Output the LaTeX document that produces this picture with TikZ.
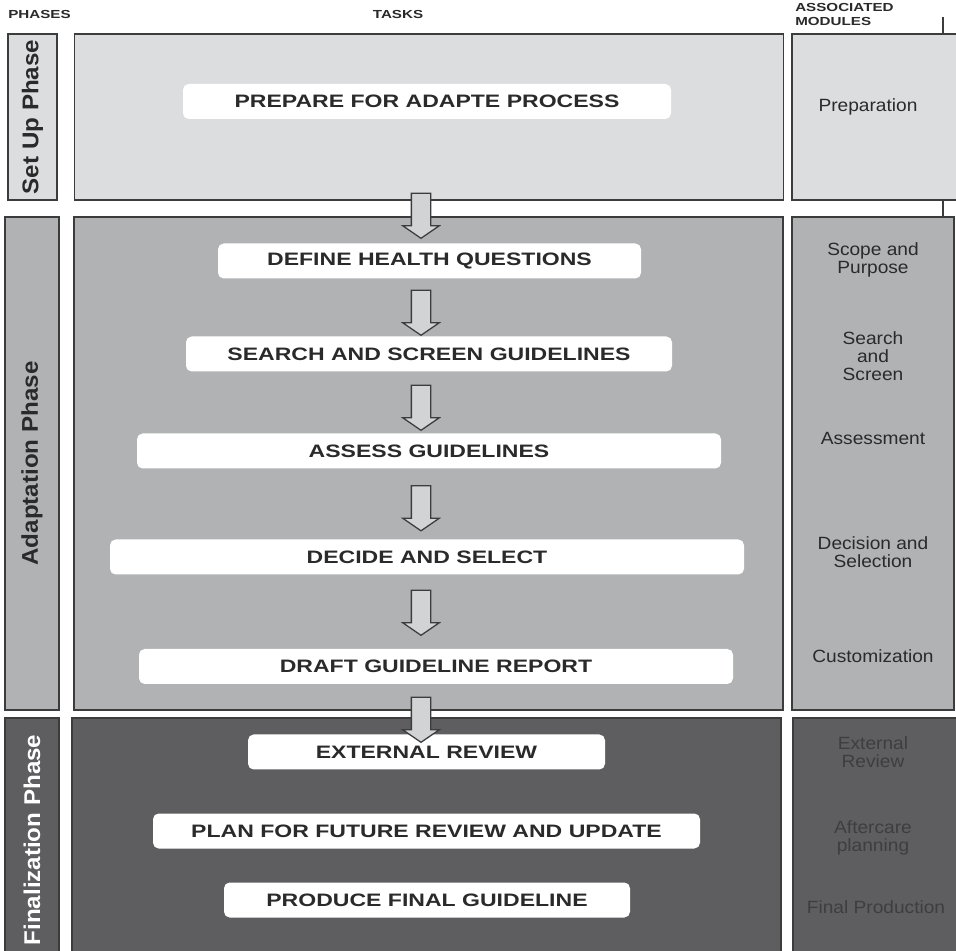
\documentclass[tikz,border=0pt]{standalone}
\usepackage{fontspec}
\setmainfont{Liberation Sans}
\newfontfamily\headfont{Liberation Sans}[FakeStretch=1.3]
\newfontfamily\taskfont{Liberation Sans}[FakeStretch=1.28]
\newfontfamily\modfont{Liberation Sans}[FakeStretch=1.08]
\newfontfamily\phasefont{Liberation Sans}[FakeStretch=1.06]
\usepackage{tikz}
\usetikzlibrary{shapes.arrows}
\definecolor{setupgray}{HTML}{DCDDDF}
\definecolor{adaptgray}{HTML}{B1B2B4}
\definecolor{finalgray}{HTML}{5E5E60}
\definecolor{edgegray}{HTML}{3C3C3C}
\definecolor{arrowgray}{HTML}{D2D3D5}
\definecolor{darktext}{HTML}{2A2A2A}
\definecolor{dimtext}{HTML}{3E3E40}
\def\pxu{0.025cm}
\tikzset{
  panel/.style={draw=edgegray, line width=1.4pt, inner sep=0pt},
  phaselabel/.style={panel, rotate=90, text=darktext, font=\phasefont\bfseries\fontsize{16.2}{17}\selectfont},
  head/.style={inner sep=0pt, text=darktext, font=\headfont\bfseries\fontsize{8.3}{10}\selectfont},
  taskbox/.style={fill=white, rounded corners=4pt, inner sep=0pt, minimum height=35*\pxu, text=darktext, font=\taskfont\bfseries\fontsize{12.8}{14}\selectfont},
  module/.style={align=center, inner sep=0pt, text=darktext, font=\modfont\fontsize{12.6}{12.8}\selectfont},
  downarrow/.style={single arrow, rotate=-90, draw=edgegray, fill=arrowgray, line width=0.9pt, inner xsep=0pt, inner ysep=9*\pxu,
    minimum height=45*\pxu, single arrow head extend=8.5*\pxu, single arrow tip angle=111}
}
\begin{document}
\begin{tikzpicture}[x=0.025cm, y=-0.025cm]
        \useasboundingbox (0,0) rectangle (956,951);
        % column headings
        \node[head, anchor=west] (phh) at (8,14) {PHASES};
        \node[head] (tkh) at (398,14) {TASKS};
        \node[head, anchor=north west, align=left] (mdh) at (795,3.5) {ASSOCIATED\\MODULES};
        \coordinate (ltop) at (943,17); \coordinate (lbot) at (943,217);
        \draw[edgegray, line width=0.8pt] (ltop) -- (lbot);
        % phases
        \node[phaselabel, fill=setupgray, minimum width=166*\pxu, minimum height=49*\pxu] (supl) at (32.5,117) {Set Up Phase};
        \node[phaselabel, fill=adaptgray, minimum width=493*\pxu, minimum height=54*\pxu] (adpl) at (32,463.5) {Adaptation Phase};
        \node[phaselabel, fill=finalgray, text=white, minimum width=244*\pxu, minimum height=54*\pxu] (fnpl) at (32,840) {Finalization Phase};
        % task panels
        \node[panel, fill=setupgray, minimum width=709*\pxu, minimum height=166*\pxu] (sutk) at (429,117) {};
        \node[panel, fill=adaptgray, minimum width=709*\pxu, minimum height=493*\pxu] (adtk) at (428.5,463.5) {};
        \node[panel, fill=finalgray, minimum width=709*\pxu, minimum height=244*\pxu] (fntk) at (426.5,840) {};
        % module panels
        \node[panel, fill=setupgray, minimum width=170*\pxu, minimum height=166*\pxu] (sumd) at (877,117) {};
        \node[panel, fill=adaptgray, minimum width=162*\pxu, minimum height=493*\pxu] (admd) at (873,463.5) {};
        \node[panel, fill=finalgray, minimum width=170*\pxu, minimum height=244*\pxu] (fnmd) at (878,840) {};
        % tasks
        \node[taskbox, minimum width=488*\pxu] (prep) at (427,101.5) {PREPARE FOR ADAPTE PROCESS};
        \node[taskbox, minimum width=423*\pxu] (defq) at (429.5,261) {DEFINE HEALTH QUESTIONS};
        \node[taskbox, minimum width=486*\pxu] (srch) at (429,354) {SEARCH AND SCREEN GUIDELINES};
        \node[taskbox, minimum width=584*\pxu] (asgl) at (429,451) {ASSESS GUIDELINES};
        \node[taskbox, minimum width=634*\pxu] (dsel) at (427,557) {DECIDE AND SELECT};
        \node[taskbox, minimum width=594*\pxu] (drft) at (436,666.5) {DRAFT GUIDELINE REPORT};
        \node[taskbox, minimum width=357*\pxu] (extr) at (426.5,752) {EXTERNAL REVIEW};
        \node[taskbox, minimum width=547*\pxu] (plan) at (426.5,831) {PLAN FOR FUTURE REVIEW AND UPDATE};
        \node[taskbox, minimum width=406*\pxu] (prod) at (427,900) {PRODUCE FINAL GUIDELINE};
        % arrows
        \node[downarrow] (ar1) at (421,212.5) {};
        \node[downarrow] (ar2) at (421,309.5) {};
        \node[downarrow] (ar3) at (421,404.5) {};
        \node[downarrow] (ar4) at (421,505) {};
        \node[downarrow] (ar5) at (421,609.5) {};
        \node[downarrow] (ar6) at (421,716.5) {};
        % modules
        \node[module] (mprep) at (868,107) {Preparation};
        \node[module] (mscop) at (873,260) {Scope and\\Purpose};
        \node[module] (msrch) at (873,356) {Search\\and\\Screen};
        \node[module] (massm) at (873,438) {Assessment};
        \node[module] (mdecs) at (873,552) {Decision and\\Selection};
        \node[module] (mcust) at (873,656) {Customization};
        \node[module, text=dimtext] (mextr) at (873,752) {External\\Review};
        \node[module, text=dimtext] (maftr) at (873,838) {Aftercare\\planning};
        \node[module, text=dimtext] (mfinl) at (876,907) {Final Production};
    \end{tikzpicture}
\end{document}
